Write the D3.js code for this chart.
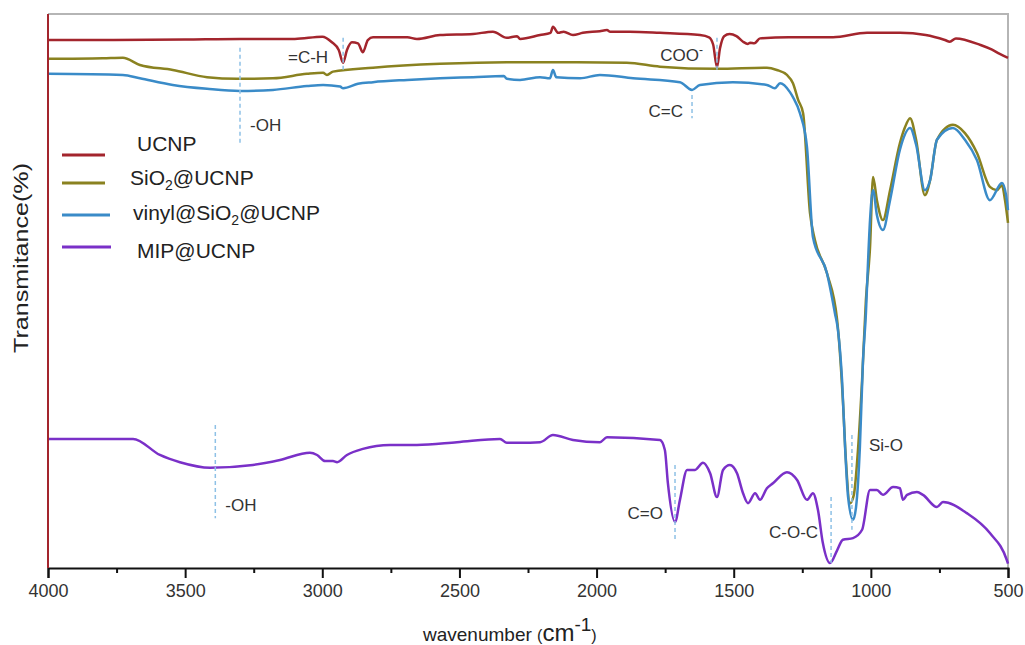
<!DOCTYPE html>
<html lang="en">
<head>
<meta charset="utf-8">
<style>
body { margin: 0; background: #fff; }
svg { display: block; font-family: "Liberation Sans", Arial, sans-serif; }
.tick text { fill: #333; font-size: 18px; }
.series { fill: none; stroke-width: 2.5px; stroke-linejoin: round; }
.mark { stroke: #8ec1e6; stroke-width: 1.5px; stroke-dasharray: 4,3; }
.note { fill: #333; font-size: 17px; }
.legend text { fill: #222; font-size: 21px; }
</style>
</head>
<body>
<svg width="1025" height="645"></svg>
<script src="https://d3js.org/d3.v7.min.js"></script>
<script>
// FT-IR spectra, wavenumber (cm-1) vs transmittance (offset, a.u.)
var xTicks = [4000, 3500, 3000, 2500, 2000, 1500, 1000, 500];

var ucnp = [[4000,95.3],[3800,95.3],[3500,95.4],[3300,95.5],[3100,95.5],[3000,95.9],[2965,94.9],[2940,93.5],[2924,91.2],[2910,93.5],[2892,94.9],[2870,94.7],[2852,93.1],[2834,95.3],[2815,95.8],[2690,95.8],[2655,95.5],[2571,96.2],[2450,96.4],[2378,96.8],[2327,95.7],[2290,96.0],[2279,95.5],[2206,96.2],[2168,96.6],[2159,97.7],[2140,96.6],[2120,96.8],[2086,96.2],[2050,96.6],[1988,96.9],[1962,97.1],[1950,96.8],[1880,96.8],[1769,96.6],[1623,96.2],[1590,95.8],[1575,94.5],[1561,90.4],[1550,93.8],[1535,96.0],[1515,96.4],[1490,96.0],[1466,95.0],[1448,94.6],[1440,94.8],[1425,94.7],[1404,95.6],[1300,95.8],[1138,95.8],[1014,96.6],[894,96.6],[800,96.2],[730,95.3],[712,95.0],[690,95.6],[600,94.4],[560,93.6],[530,92.8],[500,92.1]];

var sio2 = [[4000,91.9],[3800,92.0],[3727,92.1],[3665,90.8],[3545,89.9],[3420,88.6],[3311,88.3],[3180,88.4],[3056,89.2],[2997,89.4],[2983,89.0],[2961,89.6],[2815,90.3],[2571,91.0],[2327,91.3],[2133,91.3],[1890,91.2],[1769,90.5],[1561,90.1],[1379,90.3],[1343,89.9],[1306,89.0],[1284,87.5],[1265,84.5],[1247,82.1],[1222,64.1],[1204,59.2],[1160,53.2],[1123,44.8],[1102,30.3],[1091,19.5],[1076,11.7],[1062,13.2],[1047,21.3],[1032,33.9],[1018,48.4],[1003,57.9],[992,70.6],[978,66.4],[956,62.8],[930,68.2],[894,76.7],[876,79.5],[857,81.2],[835,77.3],[803,67.3],[784,70.0],[759,77.3],[701,80.0],[657,78.5],[613,74.9],[566,68.8],[540,68.2],[522,69.1],[511,66.4],[500,62.3]];

var vinyl = [[4000,89.2],[3727,89.0],[3665,88.4],[3545,87.2],[3420,86.5],[3300,86.1],[3180,86.3],[3056,87.0],[2997,87.2],[2935,86.9],[2924,86.6],[2870,87.4],[2815,87.7],[2690,88.1],[2571,88.4],[2450,88.6],[2338,88.8],[2327,88.3],[2279,88.1],[2206,88.6],[2170,88.4],[2159,89.9],[2147,88.6],[2060,88.4],[1988,89.0],[1867,88.4],[1696,87.7],[1652,86.3],[1623,87.2],[1503,87.7],[1379,87.2],[1350,86.6],[1331,87.5],[1295,85.9],[1284,85.0],[1258,82.0],[1233,76.0],[1211,59.7],[1160,53.2],[1131,46.0],[1120,43.0],[1105,33.9],[1094,21.8],[1083,12.8],[1065,8.7],[1054,11.0],[1040,21.8],[1029,37.0],[1018,46.0],[1010,55.6],[1003,62.8],[992,68.2],[978,63.7],[956,61.0],[930,66.4],[894,75.5],[857,79.4],[835,76.4],[803,68.2],[784,70.0],[759,77.3],[701,79.4],[657,77.3],[613,73.6],[566,66.4],[522,69.5],[507,67.3],[500,64.6]];

var mip = [[4000,23.3],[3690,23.3],[3592,20.4],[3519,19.1],[3409,18.1],[3253,18.6],[3154,19.5],[3045,20.8],[3019,20.4],[2990,19.3],[2961,19.3],[2946,19.1],[2910,20.4],[2852,21.5],[2753,22.2],[2655,22.2],[2509,22.7],[2352,23.3],[2327,22.6],[2279,22.6],[2206,22.7],[2159,24.0],[2086,23.1],[1988,22.7],[1962,23.6],[1769,23.1],[1751,21.3],[1740,15.3],[1714,8.3],[1696,12.3],[1670,17.7],[1641,17.7],[1612,19.0],[1586,17.1],[1561,12.8],[1539,17.7],[1514,18.6],[1488,17.1],[1466,13.5],[1448,11.7],[1422,13.5],[1404,12.3],[1379,14.4],[1357,15.3],[1306,17.3],[1269,15.9],[1233,12.3],[1211,13.5],[1193,10.5],[1175,4.5],[1149,0.9],[1123,3.2],[1102,5.1],[1065,5.4],[1032,6.9],[1003,14.1],[978,14.1],[956,13.2],[919,14.6],[894,14.4],[883,12.3],[868,13.2],[832,13.7],[810,13.2],[759,11.0],[737,11.9],[650,9.9],[566,6.3],[504,1.4],[500,0.8]];

var seriesNames = ["UCNP", "SiO2@UCNP", "vinyl@SiO2@UCNP", "MIP@UCNP"];
var seriesData = [ucnp, sio2, vinyl, mip];
var colors = ["#a3252d", "#8a8220", "#3a8bc8", "#7a30c8"];

// band assignments: label, wavenumber, dashed line from/to, label offset
var annotations = [
  {label: "=C-H", wn: 2924, y1: 95.7, y2: 89.9, ty: 91.2, dx: -15, anchor: "end"},
  {label: "-OH", wn: 3300, y1: 93.9, y2: 76.7, ty: 78.9, dx: 10, anchor: "start"},
  {label: "COO", sup: "-", wn: 1561, y1: 95.7, y2: 89.9, ty: 91.5, dx: -14, anchor: "end"},
  {label: "C=C", wn: 1652, y1: 85.4, y2: 81.2, ty: 81.4, dx: -9, anchor: "end"},
  {label: "-OH", wn: 3390, y1: 25.8, y2: 9.0, ty: 10.3, dx: 10, anchor: "start"},
  {label: "C=O", wn: 1714, y1: 18.6, y2: 5.1, ty: 8.8, dx: -12, anchor: "end"},
  {label: "C-O-C", wn: 1145, y1: 12.8, y2: 0.9, ty: 5.4, dx: -13, anchor: "end"},
  {label: "Si-O", wn: 1069, y1: 24.0, y2: 6.9, ty: 21.1, dx: 17, anchor: "start"}
];

var svg = d3.select("svg");
var plotL = 48, plotR = 1008, plotT = 14, plotB = 568;

var x = d3.scaleLinear().domain([4000, 500]).range([plotL, plotR]);
var y = d3.scaleLinear().domain([0, 100]).range([plotB, plotT]);

// frame: gray top/right, red left
svg.append("path")
    .attr("d", "M" + plotL + "," + plotT + "H" + plotR + "V" + plotB)
    .attr("fill", "none")
    .attr("stroke", "#b5b5b5")
    .attr("stroke-width", 2);

var line = d3.line()
    .x(function(d) { return x(d[0]); })
    .y(function(d) { return y(d[1]); })
    .curve(d3.curveMonotoneX);

svg.selectAll("path.series")
  .data(seriesData)
  .enter().append("path")
    .attr("class", "series")
    .attr("stroke", function(d, i) { return colors[i]; })
    .attr("d", line);

// dashed band markers
svg.selectAll("line.mark")
  .data(annotations)
  .enter().append("line")
    .attr("class", "mark")
    .attr("x1", function(d) { return x(d.wn); })
    .attr("x2", function(d) { return x(d.wn); })
    .attr("y1", function(d) { return y(d.y1); })
    .attr("y2", function(d) { return y(d.y2); });

var notes = svg.selectAll("text.note")
  .data(annotations)
  .enter().append("text")
    .attr("class", "note")
    .attr("x", function(d) { return x(d.wn) + d.dx; })
    .attr("y", function(d) { return y(d.ty); })
    .attr("text-anchor", function(d) { return d.anchor; })
    .text(function(d) { return d.label; });
notes.filter(function(d) { return d.sup; })
  .append("tspan")
    .attr("dy", -7)
    .attr("font-size", 12)
    .text(function(d) { return d.sup; });

// x axis
var xAxis = d3.axisBottom(x)
    .tickValues(d3.range(4000, 499, -250))
    .tickSize(10)
    .tickFormat(function(d) { return xTicks.indexOf(d) >= 0 ? d : ""; });

var gx = svg.append("g")
    .attr("transform", "translate(0," + plotB + ")")
    .call(xAxis);
gx.select(".domain").attr("stroke", "#111").attr("stroke-width", 2);
gx.selectAll(".tick line")
    .attr("stroke", "#111")
    .attr("stroke-width", 2)
    .attr("y2", function(d) { return xTicks.indexOf(d) >= 0 ? 10 : 5; });
gx.selectAll(".tick text").attr("y", 16).attr("dy", "0.71em");

// left axis in red
svg.append("line")
    .attr("x1", plotL).attr("x2", plotL)
    .attr("y1", plotT).attr("y2", plotB)
    .attr("stroke", colors[0])
    .attr("stroke-width", 2);

// axis titles
var xt = svg.append("text")
    .attr("x", 423)
    .attr("y", 641)
    .attr("fill", "#222")
    .attr("font-size", 19);
xt.append("tspan").text("wavenumber ");
xt.append("tspan").attr("font-size", 16).text("(");
xt.append("tspan").attr("font-size", 24).text("cm");
xt.append("tspan").attr("dy", -10).attr("font-size", 19).text("-1");
xt.append("tspan").attr("dy", 10).attr("font-size", 16).text(")");

svg.append("text")
    .attr("transform", "translate(28,258) rotate(-90)")
    .attr("text-anchor", "middle")
    .attr("fill", "#222")
    .attr("font-size", 21)
    .attr("textLength", 190)
    .attr("lengthAdjust", "spacingAndGlyphs")
    .text("Transmitance(%)");

// legend
var legendRows = [
  {lineY: 155, textX: 137, textY: 151, x2: 105},
  {lineY: 183, textX: 130, textY: 185, x2: 105},
  {lineY: 215, textX: 133, textY: 220, x2: 110},
  {lineY: 247, textX: 137, textY: 258, x2: 111}
];

var legend = svg.append("g").attr("class", "legend");
seriesNames.forEach(function(name, i) {
  var r = legendRows[i];
  legend.append("line")
      .attr("x1", 62).attr("x2", r.x2)
      .attr("y1", r.lineY).attr("y2", r.lineY)
      .attr("stroke", colors[i])
      .attr("stroke-width", 3);
  var t = legend.append("text").attr("x", r.textX).attr("y", r.textY);
  var parts = name.split("2");
  parts.forEach(function(p, j) {
    if (j > 0) {
      t.append("tspan").attr("dy", 5).attr("font-size", 14).text("2");
      t.append("tspan").attr("dy", -5).text(p);
    } else {
      t.append("tspan").text(p);
    }
  });
});
</script>
</body>
</html>
